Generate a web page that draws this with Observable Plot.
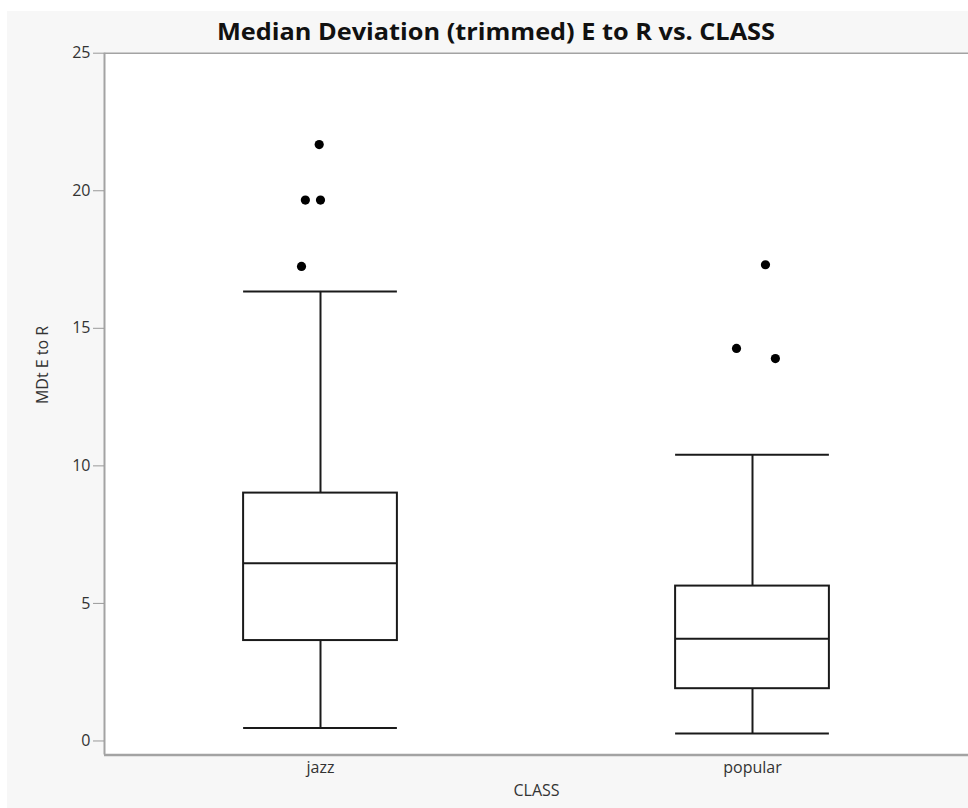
<!DOCTYPE html>
<html>
<head>
<meta charset="utf-8">
<script src="https://cdn.jsdelivr.net/npm/d3@7"></script>
<script src="https://cdn.jsdelivr.net/npm/@observablehq/plot@0.6"></script>
<style>
  html, body { margin: 0; padding: 0; background: #ffffff; }
  #panel { position: absolute; left: 7px; top: 11px; width: 961px; height: 797px; background: #f7f7f7; }
  #title { position: absolute; left: 0; top: 0; }
  #chart { position: absolute; left: 0; top: 46px; }
  #chart svg { background: transparent; overflow: visible; }
  #chart svg text { font-size: 16px !important; fill: #333; }
</style>
</head>
<body>
<div id="panel"></div>
<svg id="title" width="968" height="46">
  <text x="217" y="40" textLength="558" lengthAdjust="spacingAndGlyphs"
        font-family="Open Sans, sans-serif" font-weight="700" font-size="23" fill="#111">Median Deviation (trimmed) E to R vs. CLASS</text>
</svg>
<div id="chart"></div>
<script>
// ---- data ----
const classes   = ["jazz", "popular"];
const lowWhisk  = [0.47, 0.27];
const q1        = [3.65, 1.90];
const median    = [6.46, 3.72];
const q3        = [9.01, 5.63];
const highWhisk = [16.34, 10.40];
const outlierClass  = ["jazz", "jazz", "jazz", "jazz", "popular", "popular", "popular"];
const outlierValue  = [21.68, 19.66, 19.66, 17.25, 17.31, 14.27, 13.90];
const outlierJitter = [-0.003, -0.035, 0.0, -0.044, 0.03, -0.037, 0.053];
const yTicks = [0, 5, 10, 15, 20, 25];
const yLabel = "MDt E to R";
const xLabel = "CLASS";

// ---- build tables ----
const boxes = classes.map((c, i) => ({
  cls: c, i, lo: lowWhisk[i], q1: q1[i], med: median[i], q3: q3[i], hi: highWhisk[i]
}));
const outliers = outlierValue.map((v, k) => ({
  i: classes.indexOf(outlierClass[k]) + outlierJitter[k], v
}));

const boxHalf = 0.178;
const xDomain = [-0.5, classes.length - 0.5];
const yDomain = [-0.51, 25];
const lineColor = "#1a1a1a";
const frameColor = "#a3a3a3";

const chart = Plot.plot({
  width: 968,
  height: 762,
  marginLeft: 104,
  marginRight: 0,
  marginTop: 6.7,
  marginBottom: 53.5,
  style: { fontFamily: "Open Sans, sans-serif", fontSize: "16px", color: "#333" },
  x: { type: "linear", domain: xDomain },
  y: { domain: yDomain },
  marks: [
    Plot.frame({ fill: "white", stroke: null }),
    Plot.ruleY([yDomain[1]], { stroke: frameColor, strokeWidth: 1.5 }),
    Plot.ruleY([yDomain[0]], { stroke: frameColor, strokeWidth: 2.5 }),
    Plot.ruleX([xDomain[0]], { stroke: frameColor, strokeWidth: 2 }),
    Plot.axisY({
      ticks: yTicks, tickSize: 11, tickPadding: 3, label: null,
      stroke: "#999", fill: "#333"
    }),
    Plot.axisX({
      ticks: classes.map((c, i) => i), tickFormat: i => classes[i],
      tickSize: 0, tickPadding: 7, label: null, fill: "#333"
    }),
    // whiskers
    Plot.ruleX(boxes, { x: "i", y1: "lo", y2: "q1", stroke: lineColor, strokeWidth: 2 }),
    Plot.ruleX(boxes, { x: "i", y1: "q3", y2: "hi", stroke: lineColor, strokeWidth: 2 }),
    // whisker caps
    Plot.ruleY(boxes, { y: "lo", x1: d => d.i - boxHalf, x2: d => d.i + boxHalf, stroke: lineColor, strokeWidth: 2 }),
    Plot.ruleY(boxes, { y: "hi", x1: d => d.i - boxHalf, x2: d => d.i + boxHalf, stroke: lineColor, strokeWidth: 2 }),
    // boxes
    Plot.rect(boxes, { x1: d => d.i - boxHalf, x2: d => d.i + boxHalf, y1: "q1", y2: "q3", fill: "white", stroke: lineColor, strokeWidth: 2 }),
    // medians
    Plot.ruleY(boxes, { y: "med", x1: d => d.i - boxHalf, x2: d => d.i + boxHalf, stroke: lineColor, strokeWidth: 2 }),
    // outliers
    Plot.dot(outliers, { x: "i", y: "v", r: 4.6, fill: "#000", stroke: null }),
    // axis titles
    Plot.text([yLabel], { frameAnchor: "left", dx: -62, rotate: -90, fill: "#333" }),
    Plot.text([xLabel], { frameAnchor: "bottom", dy: 41, fill: "#333" })
  ]
});
document.getElementById("chart").appendChild(chart);
</script>
</body>
</html>
